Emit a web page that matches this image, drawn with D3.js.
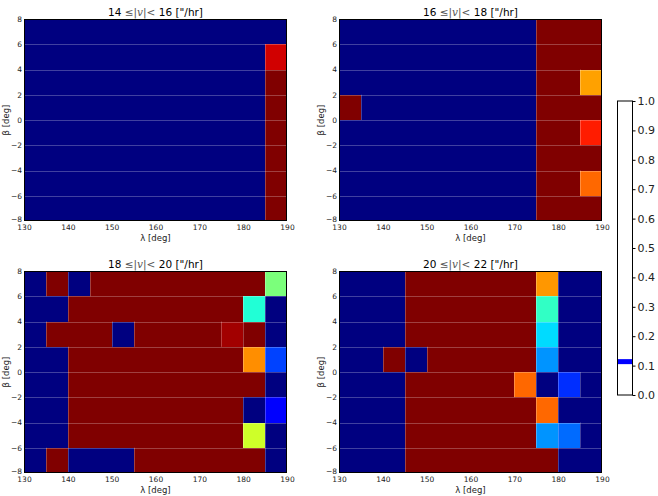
<!DOCTYPE html>
<html>
<head>
<meta charset="utf-8">
<script src="https://cdn.jsdelivr.net/npm/d3@7"></script>
<style>
  body { margin: 0; background: #fff; }
  svg { display: block; font-family: "DejaVu Sans", sans-serif; }
</style>
</head>
<body>
<div id="chart"></div>
<script>
// lambda bins (left edges), beta bins (top edges, rows listed top to bottom)
const lambdaEdges = [130, 135, 140, 145, 150, 155, 160, 165, 170, 175, 180, 185, 190];
const betaEdges = [8, 6, 4, 2, 0, -2, -4, -6, -8];
const xTicks = [130, 140, 150, 160, 170, 180, 190];
const yTicks = [-8, -6, -4, -2, 0, 2, 4, 6, 8];
const cbarTicks = [0, 0.1, 0.2, 0.3, 0.4, 0.5, 0.6, 0.7, 0.8, 0.9, 1.0];
const cbarBand = [0.105, 0.122];

const titles = [["14", "16"], ["16", "18"], ["18", "20"], ["20", "22"]];

// cell values, rows from beta 6..8 down to -8..-6
const v14 = [
  [0,0,0,0,0,0,0,0,0,0,0,0],
  [0,0,0,0,0,0,0,0,0,0,0,0.93],
  [0,0,0,0,0,0,0,0,0,0,0,1],
  [0,0,0,0,0,0,0,0,0,0,0,1],
  [0,0,0,0,0,0,0,0,0,0,0,1],
  [0,0,0,0,0,0,0,0,0,0,0,1],
  [0,0,0,0,0,0,0,0,0,0,0,1],
  [0,0,0,0,0,0,0,0,0,0,0,1]
];
const v16 = [
  [0,0,0,0,0,0,0,0,0,1,1,1],
  [0,0,0,0,0,0,0,0,0,1,1,1],
  [0,0,0,0,0,0,0,0,0,1,1,0.74],
  [1,0,0,0,0,0,0,0,0,1,1,1],
  [0,0,0,0,0,0,0,0,0,1,1,0.88],
  [0,0,0,0,0,0,0,0,0,1,1,1],
  [0,0,0,0,0,0,0,0,0,1,1,0.8],
  [0,0,0,0,0,0,0,0,0,1,1,1]
];
const v18 = [
  [0,1,0,1,1,1,1,1,1,1,1,0.5],
  [0,0,1,1,1,1,1,1,1,1,0.39,0],
  [0,1,1,1,0,1,1,1,1,0.97,1,0],
  [0,0,1,1,1,1,1,1,1,1,0.76,0.19],
  [0,0,1,1,1,1,1,1,1,1,1,0],
  [0,0,1,1,1,1,1,1,1,1,0,0.12],
  [0,0,1,1,1,1,1,1,1,1,0.6,0],
  [0,1,0,0,0,1,1,1,1,1,1,0]
];
const v20 = [
  [0,0,0,1,1,1,1,1,1,0.75,0,0],
  [0,0,0,1,1,1,1,1,1,0.41,0,0],
  [0,0,0,1,1,1,1,1,1,0.34,0,0],
  [0,0,1,0,1,1,1,1,1,0.27,0,0],
  [0,0,0,1,1,1,1,1,0.8,0,0.17,0],
  [0,0,0,1,1,1,1,1,1,0.8,0,0],
  [0,0,0,1,1,1,1,1,1,0.27,0.23,0],
  [0,0,0,1,1,1,1,1,1,1,0,0]
];
const panelsData = [v14, v16, v18, v20];

// matplotlib "jet"
const jr = d3.scaleLinear().domain([0, 0.35, 0.66, 0.89, 1]).range([0, 0, 1, 1, 0.5]).clamp(true);
const jg = d3.scaleLinear().domain([0, 0.125, 0.375, 0.64, 0.91, 1]).range([0, 0, 1, 1, 0, 0]).clamp(true);
const jb = d3.scaleLinear().domain([0, 0.11, 0.34, 0.65, 1]).range([0.5, 1, 1, 0, 0]).clamp(true);
const jet = v => d3.rgb(jr(v) * 255, jg(v) * 255, jb(v) * 255).formatHex();

const width = 658, height = 496;
const pw = 263, ph = 202;
const origins = [[24, 19], [339, 19], [24, 271], [339, 271]];

const svg = d3.select("#chart").append("svg")
  .attr("width", width)
  .attr("height", height);

panelsData.forEach((grid, p) => {
  const [ox, oy] = origins[p];
  const x = d3.scaleLinear().domain([130, 190]).range([0, pw]);
  const y = d3.scaleLinear().domain([-8, 8]).range([ph, 0]);

  const g = svg.append("g").attr("transform", `translate(${ox},${oy})`);

  const cells = [];
  grid.forEach((row, r) => row.forEach((v, c) => cells.push({r, c, v})));

  g.selectAll("rect.cell")
    .data(cells)
    .join("rect")
      .attr("class", "cell")
      .attr("x", d => x(lambdaEdges[d.c]))
      .attr("y", d => y(betaEdges[d.r]))
      .attr("width", d => x(lambdaEdges[d.c + 1]) - x(lambdaEdges[d.c]))
      .attr("height", d => y(betaEdges[d.r + 1]) - y(betaEdges[d.r]))
      .attr("fill", d => jet(d.v))
      .attr("shape-rendering", "crispEdges");

  // seams between cells (pcolor artefacts)
  g.selectAll("line.hseam")
    .data(betaEdges.slice(1, -1))
    .join("line")
      .attr("x1", 0).attr("x2", pw)
      .attr("y1", d => Math.round(y(d)) + 0.5)
      .attr("y2", d => Math.round(y(d)) + 0.5)
      .attr("stroke", "#fff").attr("stroke-opacity", 0.25);

  const vseams = cells.filter(d => d.c < 11 && grid[d.r][d.c + 1] !== d.v);
  g.selectAll("line.vseam")
    .data(vseams)
    .join("line")
      .attr("x1", d => Math.round(x(lambdaEdges[d.c + 1])) + 0.5)
      .attr("x2", d => Math.round(x(lambdaEdges[d.c + 1])) + 0.5)
      .attr("y1", d => y(betaEdges[d.r]))
      .attr("y2", d => y(betaEdges[d.r + 1]))
      .attr("stroke", "#fff").attr("stroke-opacity", 0.25);

  g.append("rect")
    .attr("x", 0.5).attr("y", 0.5)
    .attr("width", pw - 1).attr("height", ph - 1)
    .attr("fill", "none").attr("stroke", "#000");

  g.append("g")
    .attr("transform", `translate(0,${ph})`)
    .call(d3.axisBottom(x).tickValues(xTicks).tickSize(0).tickPadding(4))
    .call(a => a.select(".domain").remove())
    .call(a => a.selectAll("text").attr("font-size", 7.5).attr("fill", "#222")
      .attr("font-family", "DejaVu Sans"));

  g.append("g")
    .call(d3.axisLeft(y).tickValues(yTicks).tickSize(0).tickPadding(2))
    .call(a => a.select(".domain").remove())
    .call(a => a.selectAll("text").attr("font-size", 7.5).attr("fill", "#222")
      .attr("font-family", "DejaVu Sans")
      .attr("dy", d => d === -8 ? "0.1em" : "0.32em"));

  g.append("text")
    .attr("x", pw / 2).attr("y", ph + 20)
    .attr("text-anchor", "middle")
    .attr("font-size", 8.5).attr("fill", "#222")
    .text("λ [deg]");

  g.append("text")
    .attr("transform", `translate(-15,${ph / 2}) rotate(-90)`)
    .attr("text-anchor", "middle")
    .attr("font-size", 8.5).attr("fill", "#222")
    .text("β [deg]");

  const t = g.append("text")
    .attr("x", pw / 2).attr("y", -3)
    .attr("text-anchor", "middle")
    .attr("font-size", 10.5).attr("fill", "#000");
  t.append("tspan").text(titles[p][0] + " ");
  t.append("tspan").attr("fill", "#555").text("≤|");
  t.append("tspan").attr("font-style", "italic").attr("font-family", "DejaVu Serif").attr("fill", "#555").text("v");
  t.append("tspan").attr("fill", "#555").text("|< ");
  t.append("tspan").text(titles[p][1] + " [\"/hr]");
});

// colorbar
const cx = 617, cw = 15;
const cy = d3.scaleLinear().domain([0, 1]).range([395, 101]);
const cb = svg.append("g").attr("transform", `translate(${cx},0)`);
cb.append("rect")
  .attr("x", 0.5).attr("y", cy(1))
  .attr("width", cw).attr("height", cy(0) - cy(1))
  .attr("fill", "#fff").attr("stroke", "#000");
cb.append("rect")
  .attr("x", 1).attr("y", cy(cbarBand[1]))
  .attr("width", cw - 1).attr("height", cy(cbarBand[0]) - cy(cbarBand[1]))
  .attr("fill", "#0000ff");
cb.append("g")
  .attr("transform", `translate(${cw + 0.5},0)`)
  .call(d3.axisRight(cy).tickValues(cbarTicks).tickFormat(d3.format(".1f")).tickSize(3).tickPadding(2))
  .call(a => a.select(".domain").remove())
  .call(a => a.selectAll("text").attr("font-size", 11).attr("fill", "#222")
    .attr("font-family", "DejaVu Sans"));
</script>
</body>
</html>
